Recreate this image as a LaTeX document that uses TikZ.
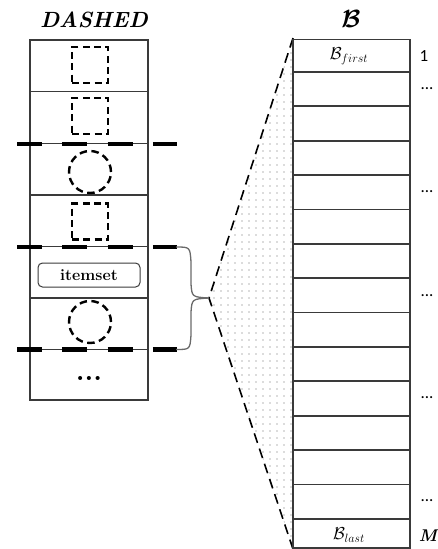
\documentclass[tikz,border=0pt]{standalone}
\usepackage{amsmath,bm}
\usepackage{fontspec}
\usetikzlibrary{patterns.meta}
\newfontfamily\sidefont{Carlito}
\definecolor{ln}{HTML}{3A3A3A}
\definecolor{brace}{HTML}{6A6A6A}
\begin{document}
\begin{tikzpicture}[x=1pt,y=-1pt,
  rowline/.style={draw=ln, line width=1.3pt},
  rrow/.style={draw=ln, line width=1.8pt},
  dsq/.style={draw=black, dash pattern=on 7pt off 4.3pt, line width=2.4pt, minimum size=36pt, inner sep=0pt, rectangle},
  dci/.style={draw=black, dash pattern=on 7.5pt off 4.5pt, line width=2.4pt, minimum size=42pt, inner sep=0pt, circle},
  thickdash/.style={draw=black, line width=4.5pt, dash pattern=on 25pt off 20.3pt},
  bracel/.style={draw=brace, line width=1.3pt},
  tridash/.style={draw=black, line width=1.6pt, dash pattern=on 10pt off 6pt},
  lbl/.style={inner sep=0pt},
  side/.style={inner sep=0pt, font=\sidefont\fontsize{17}{17}\selectfont},
]
\useasboundingbox (0,0) rectangle (437,549);

% ---------- left column ----------
\node[lbl, font=\fontsize{22}{22}\selectfont\bfseries\itshape] (ttl) at (94,20) {DASHED};
\draw[rowline] (30,40) rectangle (148,400);
\foreach \yy in {91.5,143.5,195,246.5,298,349.5}
  \draw[rowline] (30,\yy) -- (148,\yy);

\node[dsq] (s1) at (90,65) {};
\node[dsq] (s2) at (90,116) {};
\node[dci] (c1) at (90,172) {};
\node[dsq] (s3) at (90,221.5) {};
\node[draw=ln, line width=1pt, rounded corners=4.5pt, minimum width=102pt, minimum height=24pt, inner sep=0pt,
      font=\fontsize{16}{16}\selectfont\bfseries] (it) at (89,275) {itemset};
\node[dci] (c2) at (90,322) {};
\node[lbl, font=\fontsize{28}{28}\selectfont\bfseries] (dt) at (89,378) {...};

\draw[thickdash] (17,144) -- (177,144);
\draw[thickdash] (17,247) -- (177,247);
\draw[thickdash] (17,349.5) -- (177,349.5);

\coordinate (e1) at (176,247);
\coordinate (e2) at (176,349.5);
\coordinate (ap) at (209,298);
\coordinate (tt) at (293,38);
\coordinate (tb) at (293,549);

% ---------- fan ----------
\fill[pattern={Dots[distance=6.5pt,radius=0.7pt]}, pattern color=black!60] (tt) -- (ap) -- (tb) -- cycle;
\draw[tridash] (tt) -- (ap) -- (tb);

\draw[bracel] (e1) .. controls (190,247) .. (191,262) -- (191,284) .. controls (192,297) .. (ap);
\draw[bracel] (e2) .. controls (190,349.5) .. (191,335) -- (191,312) .. controls (192,299) .. (ap);

% ---------- right column ----------
\node[lbl, font=\fontsize{28}{28}\selectfont] (bt) at (351,19) {$\boldsymbol{\mathcal{B}}$};
\draw[rrow] (293,39.5) rectangle (410,548);
\foreach \k in {0,...,13}
  \draw[rrow] (293,72+34.37*\k) -- (410,72+34.37*\k);

\node[lbl, font=\fontsize{17}{17}\selectfont] (bf) at (349,56) {$\mathcal{B}_{first}$};
\node[lbl, font=\fontsize{17}{17}\selectfont] (bl) at (349,535) {$\mathcal{B}_{last}$};

\node[side] (n1) at (424,56) {1};
\node[side] (d1) at (427,89) {...};
\node[side] (d2) at (427,192) {...};
\node[side] (d3) at (427,296) {...};
\node[side] (d4) at (427,398) {...};
\node[side] (d5) at (427,501) {...};
\node[lbl, font=\fontsize{17}{17}\selectfont\bfseries\itshape] (nm) at (428,536) {M};
\end{tikzpicture}
\end{document}
